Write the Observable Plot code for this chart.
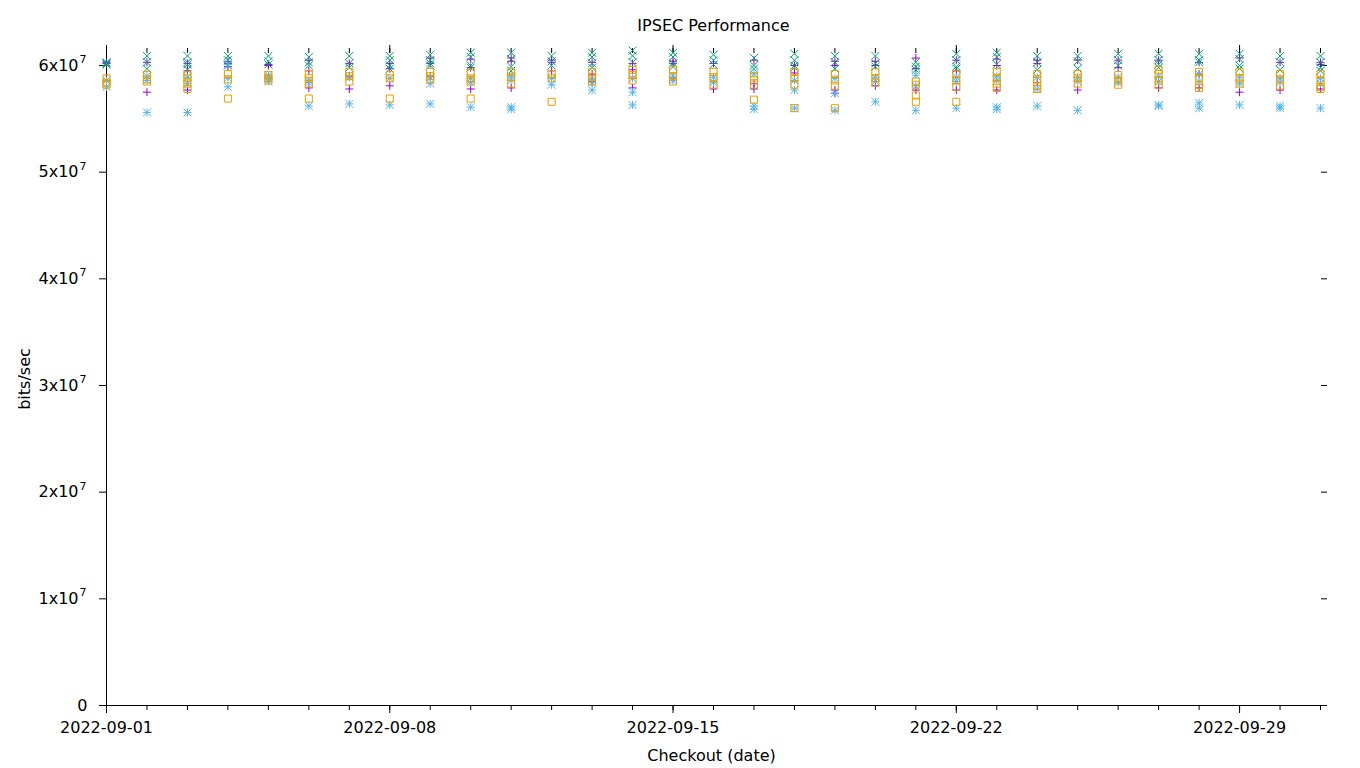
<!DOCTYPE html>
<html>
<head>
<meta charset="utf-8">
<script src="https://cdn.jsdelivr.net/npm/d3@7"></script>
<script src="https://cdn.jsdelivr.net/npm/@observablehq/plot@0.6"></script>
<style>
  html, body { margin: 0; padding: 0; background: #fff; }
  svg { display: block; }
</style>
</head>
<body>
<div id="chart"></div>
<script>
// Checkout dates (one column of runs per day)
const dates = [
  "2022-09-01","2022-09-02","2022-09-03","2022-09-04","2022-09-05","2022-09-06","2022-09-07",
  "2022-09-08","2022-09-09","2022-09-10","2022-09-11","2022-09-12","2022-09-13","2022-09-14",
  "2022-09-15","2022-09-16","2022-09-17","2022-09-18","2022-09-19","2022-09-20","2022-09-21",
  "2022-09-22","2022-09-23","2022-09-24","2022-09-25","2022-09-26","2022-09-27","2022-09-28",
  "2022-09-29","2022-09-30","2022-10-01"
];

// Throughput per run, Mbit/s, one list per date (series 1: purple +)
const series1 = [
  [60.2,60.3],[60.3,57.5],[60.2,59.5,57.7],[60.4,60.2,59.9],[60.0,60.1],[60.5,59.5,57.9],[60.2,59.0,57.8],
  [59.7,58.1,60.2],[60.7,60.2,59.0],[60.6,59.8,57.8],[60.7,60.4,57.9],[60.5,59.5,60.3],[60.3,59.2,58.5],[60.2,59.6,57.9],
  [60.4,60.2,58.8],[60.2,57.8],[60.5,57.8,58.3],[60.0,59.3],[60.4,60.0,57.7,57.4],[60.4,60.0,58.1],[60.7,59.7,57.7],
  [60.5,59.5,57.7],[60.6,60.0,57.7],[60.5,60.2,58.4],[60.5,57.7],[60.5,59.8],[60.5,57.9],[60.3,59.2,57.9],
  [60.7,57.5],[60.3,57.7],[60.3,57.8,60.1]
];
// series 2: green x
const series2 = [
  [60.2,60.3,60.1],[60.9,60.3,59.7],[60.9,60.3,60.1,59.6],[60.9,60.5,60.0],[60.9,60.4,60.1],[60.8,60.3,60.0],[60.9,60.2,59.8],
  [60.9,60.5,60.0,59.7],[61.0,60.5,60.2,60.0],[61.2,60.8,60.0,59.8],[61.2,60.6,59.9,59.5],[60.9,60.4,60.0],[61.2,60.8,60.2,59.8],[61.4,60.9,60.3],
  [61.2,60.8,60.2,59.9],[61.0,60.5,60.1],[60.7,60.0,59.7],[61.1,60.5,60.0,59.8],[60.9,60.3,59.7],[60.9,60.2,59.9],[60.3,59.9,59.6],
  [61.1,60.5,59.9,59.7],[61.2,60.8,60.1],[60.9,60.3,59.6],[60.9,60.4,59.7],[61.1,60.5,60.0],[61.1,60.5,60.1,59.8],[61.1,60.5,60.3],
  [61.1,60.6,60.0,59.7],[60.9,60.3,59.6],[60.9,60.3,59.8,59.5]
];
// series 3: light blue *
const series3 = [
  [58.6,58.0],[59.0,58.6,55.6],[58.9,58.3,55.6],[60.1,58.8,58.0],[59.1,58.8,58.5],[58.6,58.4,56.2],[58.9,56.4],
  [58.8,56.3],[58.9,58.3,56.4],[58.8,58.4,56.1],[59.0,58.6,56.1,55.9],[58.8,58.2],[58.7,58.4,57.7],[58.8,57.5,56.3],
  [59.0,58.6],[58.9,58.4],[59.2,56.2,55.9],[58.6,57.7,56.0],[58.8,57.4,55.8],[58.9,58.5,56.6],[59.1,58.1,55.8],
  [58.9,58.5,56.0],[59.0,58.6,56.1,55.9],[58.9,57.8,56.2],[58.9,58.5,55.8],[58.9,58.4],[59.0,58.5,56.3,56.2],[59.2,58.5,56.5,56.0],
  [58.9,58.3,56.3],[58.8,58.4,56.2,56.0],[58.8,58.3,56.0]
];
// series 4: orange open squares
const series4 = [
  [58.8,58.4,58.2],[59.1,58.7,58.5],[59.1,58.8,58.3,57.8],[59.2,58.7,56.9],[59.1,58.8,58.6],[59.2,58.8,58.3,56.9],[59.4,59.0,58.5],
  [59.1,58.8,56.9],[59.4,59.0,58.7],[59.3,58.8,58.5,56.9],[59.4,58.9,58.3],[59.2,58.8,56.6],[59.4,58.9,58.5],[59.6,59.1,58.6],
  [59.6,59.0,58.5],[59.4,58.9,58.2],[59.0,58.6,58.2,56.8],[59.4,58.8,58.2,56.0],[59.2,58.6,58.1,56.0],[59.4,58.8,58.4],[58.5,58.2,57.2,56.6],
  [59.2,58.6,58.0,56.6],[59.4,58.8,58.3,57.9],[59.2,58.7,58.1,57.8],[59.2,58.8,58.3],[59.1,58.6,58.2],[59.6,59.2,58.6,58.2],[59.4,58.8,58.2,57.9],
  [59.4,58.8,58.3],[59.2,58.7,58.1],[59.2,58.6,58.0,57.8]
];

const seriesColors = ["#9400d3", "#009e73", "#56b4e9", "#e69f00"];

const xLabelDates = ["2022-09-01","2022-09-08","2022-09-15","2022-09-22","2022-09-29"];
const yTickValues = [0, 1e7, 2e7, 3e7, 4e7, 5e7, 6e7];
const yTickMantissa = ["0", "1x10", "2x10", "3x10", "4x10", "5x10", "6x10"];
const yTickExponent = ["", "7", "7", "7", "7", "7", "7"];

// gnuplot-like point glyphs; r = half width
const half = (size) => Math.sqrt(size / Math.PI);
const gpPlus = {draw(c, s){ const r = half(s); c.moveTo(-r,0); c.lineTo(r,0); c.moveTo(0,-r); c.lineTo(0,r); }};
const gpTimes = {draw(c, s){ const r = half(s); c.moveTo(-r,-r); c.lineTo(r,r); c.moveTo(-r,r); c.lineTo(r,-r); }};
const gpStar = {draw(c, s){ const r = half(s); c.moveTo(-r,0); c.lineTo(r,0); c.moveTo(0,-r); c.lineTo(0,r);
  c.moveTo(-r,-r); c.lineTo(r,r); c.moveTo(-r,r); c.lineTo(r,-r); }};
const gpSquare = {draw(c, s){ const r = half(s); c.moveTo(-r,-r); c.lineTo(r,-r); c.lineTo(r,r); c.lineTo(-r,r); c.closePath(); }};
const glyphs = [gpPlus, gpTimes, gpStar, gpSquare];
const radii = [4, 4, 4, 3.5];

const parse = d3.utcParse("%Y-%m-%d");
const allSeries = [series1, series2, series3, series4];
const tables = allSeries.map((s) => s.flatMap((vals, i) => vals.map((v) => ({date: parse(dates[i]), bps: v * 1e6}))));

const yLabels = yTickValues.map((v, i) => ({v, m: yTickMantissa[i], e: yTickExponent[i]}));
const yPlain = yLabels.filter((d) => !d.e);
const yPow = yLabels.filter((d) => d.e);
const dayTicks = dates.map(parse);
const weekTicks = xLabelDates.map(parse);
const blank = () => "";
const x0 = parse(dates[0]);
const x1 = parse(dates[dates.length - 1]);

const chart = Plot.plot({
  width: 1360,
  height: 768,
  marginLeft: 106,
  marginRight: 40,
  marginTop: 52,
  marginBottom: 63,
  style: {fontFamily: "'DejaVu Sans', sans-serif", fontSize: "16px", background: "#fff", color: "#000"},
  x: {type: "utc", domain: [x0, x1]},
  y: {domain: [0, 61.22e6]},
  marks: [
    Plot.axisY({ticks: yTickValues, tickSize: 7, tickFormat: blank, label: null}),
    Plot.axisY({anchor: "right", ticks: yTickValues, tickSize: 6, tickFormat: blank, label: null}),
    Plot.text(yPlain, {y: "v", text: "m", frameAnchor: "left", textAnchor: "end", dx: -19, lineAnchor: "middle"}),
    Plot.text(yPow, {y: "v", text: "m", frameAnchor: "left", textAnchor: "end", dx: -28, lineAnchor: "middle"}),
    Plot.text(yPow, {y: "v", text: "e", frameAnchor: "left", textAnchor: "start",
      dx: -27, dy: -6, fontSize: 11, lineAnchor: "middle"}),
    Plot.axisX({ticks: dayTicks, tickSize: 5, tickFormat: blank, label: null}),
    Plot.axisX({ticks: weekTicks, tickSize: 8, tickPadding: 8, tickFormat: d3.utcFormat("%Y-%m-%d"), label: null}),
    Plot.axisX({anchor: "top", ticks: dayTicks, tickSize: 5, tickFormat: blank, label: null}),
    Plot.axisX({anchor: "top", ticks: weekTicks, tickSize: 8, tickFormat: blank, label: null}),
    Plot.ruleX([x0], {stroke: "#000"}),
    Plot.ruleY([0], {stroke: "#000"}),
    ...tables.map((t, k) => Plot.dot(t, {
      x: "date", y: "bps", symbol: glyphs[k], r: radii[k],
      stroke: seriesColors[k], fill: "none", strokeWidth: 1
    })),
    Plot.text(["IPSEC Performance"], {text: (d) => d, frameAnchor: "top", lineAnchor: "middle", dy: -27}),
    Plot.text(["Checkout (date)"], {text: (d) => d, frameAnchor: "bottom", lineAnchor: "middle", dy: 50, dx: -2}),
    Plot.text(["bits/sec"], {text: (d) => d, frameAnchor: "left", textAnchor: "middle", lineAnchor: "middle", dx: -82, rotate: -90})
  ]
});
document.getElementById("chart").append(chart);
</script>
</body>
</html>
